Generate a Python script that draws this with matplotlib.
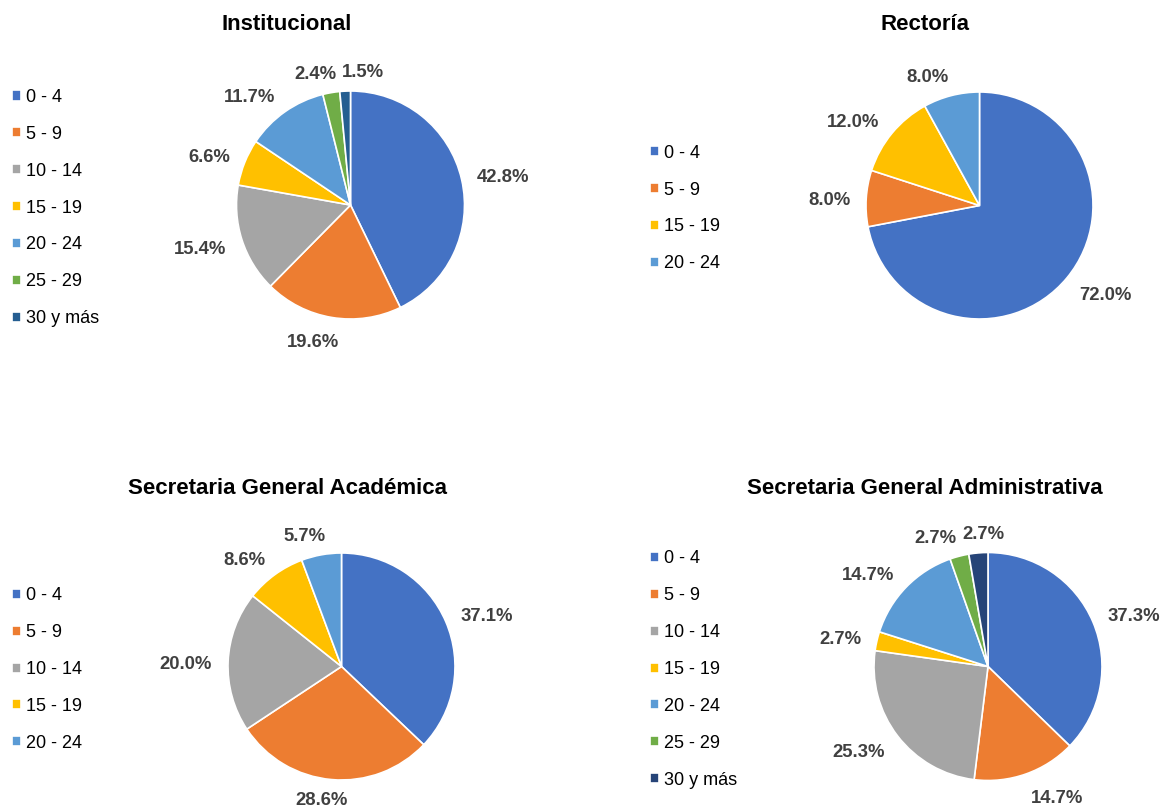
import matplotlib.pyplot as plt
import numpy as np

plt.rcParams["font.family"] = ["Liberation Sans", "DejaVu Sans"]

W, H = 1161, 810

ranges = ["0 - 4", "5 - 9", "10 - 14", "15 - 19", "20 - 24", "25 - 29", "30 y más"]
range_colors = ["#4472C4", "#ED7D31", "#A5A5A5", "#FFC000", "#5B9BD5", "#70AD47", "#255E91"]

inst_labels = ranges
inst_vals = [42.8, 19.6, 15.4, 6.6, 11.7, 2.4, 1.5]

rect_labels = ["0 - 4", "5 - 9", "15 - 19", "20 - 24"]
rect_vals = [72.0, 8.0, 12.0, 8.0]

acad_labels = ["0 - 4", "5 - 9", "10 - 14", "15 - 19", "20 - 24"]
acad_vals = [37.1, 28.6, 20.0, 8.6, 5.7]

admin_labels = ranges
admin_vals = [37.3, 14.7, 25.3, 2.7, 14.7, 2.7, 2.7]

fig = plt.figure(figsize=(W / 100, H / 100), dpi=100)
ax = fig.add_axes([0, 0, 1, 1])
renderer = fig.canvas.get_renderer()


def draw_pie(title, labels, vals, cx, cy, r, tx, ty, lx, last_color=None):
    # positions are in pixels, y measured from the top
    cols = [range_colors[ranges.index(l)] for l in labels]
    if last_color and labels[-1] == "30 y más":
        cols[-1] = last_color
    wedges, _ = ax.pie(vals, center=(cx, H - cy), radius=r, startangle=90,
                       counterclock=False, colors=cols,
                       wedgeprops=dict(edgecolor="white", linewidth=1.2))

    # data labels outside the wedges, roughly how Excel places them
    items = []
    for w, v in zip(wedges, vals):
        ang = np.deg2rad((w.theta1 + w.theta2) / 2)
        ux, uy = np.cos(ang), np.sin(ang)
        t = ax.text(0, 0, f"{v:.1f}%", ha="center", va="center", fontsize=13.3,
                    fontweight="bold", color="#404040")
        bb = t.get_window_extent(renderer)
        a, b = bb.width / 2, bb.height * 0.36
        d = r + 16
        x = cx + d * ux + a * np.sign(ux) * min(1, 3.8 * abs(ux))
        y = H - cy + (d + b) * uy - 3.5
        y = max(y, bb.height / 2 + 1)  # keep it inside the figure
        items.append([t, x, y, a, b])

    # later label slides away from the one before it if they overlap
    for i in range(len(items)):
        for j in range(i + 1, len(items)):
            pi, pj = items[i], items[j]
            dx = pj[1] - pi[1]
            need = pi[3] + pj[3] + 6
            if abs(dx) < need and abs(pj[2] - pi[2]) < pi[4] + pj[4] + 4:
                pj[1] = pi[1] + need
    for t, x, y, a, b in items:
        t.set_position((x, y))

    ax.text(tx, H - ty, title, ha="center", va="center", fontsize=16,
            fontweight="bold", color="black")

    fig.legend(wedges, labels, loc="center left",
               bbox_to_anchor=(lx / W, 1 - (cy + 3) / H), frameon=False,
               fontsize=13, handlelength=0.48, handleheight=0.48,
               handletextpad=0.3, labelspacing=1.1, borderpad=0,
               borderaxespad=0)


draw_pie("Institucional", inst_labels, inst_vals, 350.5, 205, 114, 287, 25, 12)
draw_pie("Rectoría", rect_labels, rect_vals, 979.5, 205.5, 113.5, 925, 25, 650)
draw_pie("Secretaria General Académica", acad_labels, acad_vals, 341.5, 666.5, 113.5, 287, 488, 12)
draw_pie("Secretaria General Administrativa", admin_labels, admin_vals, 988, 666.5, 114, 925, 488, 650,
         last_color="#264478")

ax.set_xlim(0, W)
ax.set_ylim(0, H)
ax.set_aspect("auto")
ax.axis("off")

fig.savefig("out.png", dpi=100)
